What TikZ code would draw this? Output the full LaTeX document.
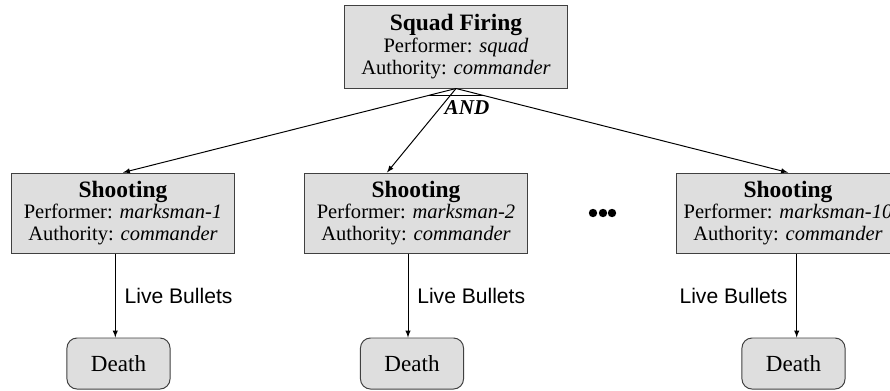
\documentclass[tikz,border=0pt]{standalone}
\usepackage{fontspec}
\setmainfont{Liberation Serif}
\setsansfont{Liberation Sans}
\usetikzlibrary{arrows}
\newcommand{\actname}[1]{{\fontsize{16.7}{15.6}\selectfont\bfseries #1}}

\begin{document}
\begin{tikzpicture}[x=0.025cm,y=-0.025cm,>=latex,line width=0.7pt,
  actbox/.style={draw=black!75,fill=black!13,minimum width=5.55cm,minimum height=2cm,align=center,inner sep=0pt,font=\fontsize{14.6}{15.6}\selectfont},
  endbox/.style={draw=black!75,fill=black!13,rounded corners=0.25cm,minimum width=2.575cm,minimum height=1.275cm,font=\fontsize{16.4}{18}\selectfont},
  flowlabel/.style={font=\sffamily\fontsize{15}{16}\selectfont,inner sep=0pt}]
\useasboundingbox (0,0) rectangle (890,390);
\clip (0,0) rectangle (890,390);
% activities
\node[actbox,minimum height=2.075cm] (squad) at (456,46.5) {\actname{Squad Firing}\\ Performer: \textit{squad}\\ Authority: \textit{commander}};
\node[actbox] (shoot1) at (123,213) {\actname{Shooting}\\ Performer: \textit{marksman-1}\\ Authority: \textit{commander}};
\node[actbox] (shoot2) at (416,213) {\actname{Shooting}\\ Performer: \textit{marksman-2}\\ Authority: \textit{commander}};
\node[actbox] (shoot3) at (788,213) {\actname{Shooting}\\ Performer: \textit{marksman-10}\\ Authority: \textit{commander}};
\foreach \x in {593,603,612}
  \fill (\x,213) circle (0.105cm);
% outcomes
\node[endbox] (death1) at (118.5,363.5) {Death};
\node[endbox] (death2) at (412,363.5) {Death};
\node[endbox] (death3) at (793.5,363.5) {Death};
% decomposition
\draw[->] (squad.south) -- coordinate[pos=0.08] (andl) (shoot1.north);
\draw[->] (squad.south) -- ([xshift=-0.725cm]shoot2.north);
\draw[->] (squad.south) -- coordinate[pos=0.08] (andr) (shoot3.north);
\draw (andl) -- (andr);
\node[font=\fontsize{15}{15}\selectfont\bfseries\itshape] (andlabel) at (467,108) {AND};
% effects
\draw[->] ([xshift=-0.08cm]shoot1.south -| death1.north) -- node[flowlabel,right=0.22cm] {Live Bullets} ([xshift=-0.08cm]death1.north);
\draw[->] ([xshift=-0.1cm]shoot2.south -| death2.north) -- node[flowlabel,right=0.22cm] {Live Bullets} ([xshift=-0.1cm]death2.north);
\draw[->] ([xshift=0.08cm]shoot3.south -| death3.north) -- node[flowlabel,left=0.22cm] {Live Bullets} ([xshift=0.08cm]death3.north);
\end{tikzpicture}
\end{document}
